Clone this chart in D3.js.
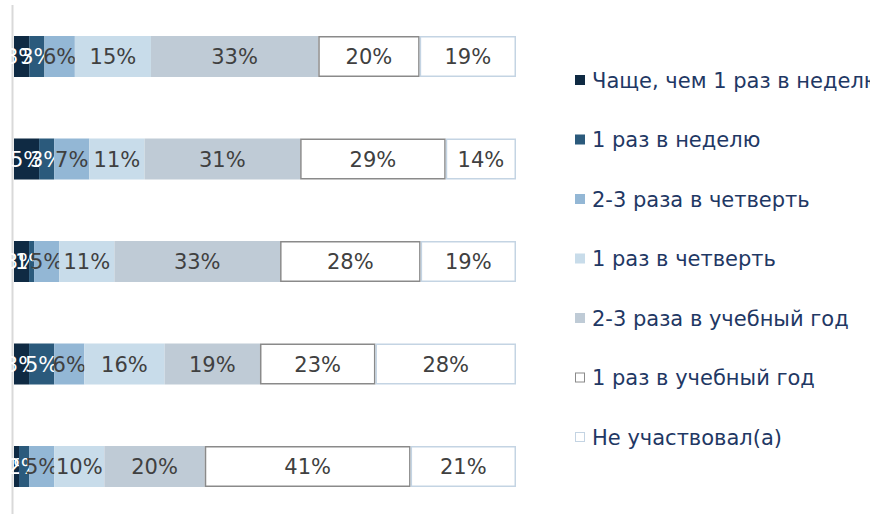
<!DOCTYPE html>
<html>
<head>
<meta charset="utf-8">
<script src="https://cdn.jsdelivr.net/npm/d3@7"></script>
<style>
  body { margin: 0; background: #fff; }
  svg { display: block; }
</style>
</head>
<body>
<div id="chart"></div>
<script>
// rows of the chart, top to bottom (no labels shown in the picture)
let groups = ["g1", "g2", "g3", "g4", "g5"];

let seriesNames = [
  "Чаще, чем 1 раз в неделю",
  "1 раз в неделю",
  "2-3 раза в четверть",
  "1 раз в четверть",
  "2-3 раза в учебный год",
  "1 раз в учебный год",
  "Не участвовал(а)"
];

// percent per row, one array per answer
let often   = [3, 5, 3, 3, 1];
let weekly  = [3, 3, 1, 5, 2];
let q23     = [6, 7, 5, 6, 5];
let q1      = [15, 11, 11, 16, 10];
let y23     = [33, 31, 33, 19, 20];
let y1      = [20, 29, 28, 23, 41];
let never   = [19, 14, 19, 28, 21];

let fills   = ["#0f2a43", "#2b5a7c", "#93b7d5", "#c8dcea", "#bfcbd6", "#ffffff", "#ffffff"];
let strokes = [null, null, null, null, null, "#8a8a8a", "#c4d4e3"];
let labelColors = ["#ffffff", "#ffffff", "#404040", "#404040", "#404040", "#404040", "#404040"];

let width = 870,
  height = 514;

let svg = d3.select("#chart")
  .append("svg")
  .attr("width", width)
  .attr("height", height);

let keys = d3.range(seriesNames.length);
let cols = [often, weekly, q23, q1, y23, y1, never];

let table = groups.map((g, i) => {
  let row = { group: g };
  keys.forEach(k => row[k] = cols[k][i]);
  return row;
});

let stack = d3.stack().keys(keys).offset(d3.stackOffsetExpand);
let layers = stack(table);

let x = d3.scaleLinear().domain([0, 1]).range([14, 516]);
let y = d3.scaleBand()
  .domain(groups)
  .range([5.25, 517.75])
  .paddingInner(0.6)
  .paddingOuter(0.3);

// left axis line
svg.append("line")
  .attr("x1", 12.5).attr("x2", 12.5)
  .attr("y1", 5).attr("y2", height)
  .attr("stroke", "#d9d9d9")
  .attr("stroke-width", 2);

let layer = svg.selectAll("g.layer")
  .data(layers)
  .join("g")
  .attr("class", "layer");

// white boxes get a border, so pull them in by half a stroke
let inset = k => strokes[k] ? 0.75 : 0;

layer.selectAll("rect")
  .data(d => d.map(v => ({ v: v, key: d.key })))
  .join("rect")
  .attr("x", d => x(d.v[0]) + inset(d.key))
  .attr("y", (d, i) => y(groups[i]) + inset(d.key))
  .attr("width", d => x(d.v[1]) - x(d.v[0]) - 2 * inset(d.key))
  .attr("height", d => y.bandwidth() - 2 * inset(d.key))
  .attr("fill", d => fills[d.key])
  .attr("stroke", d => strokes[d.key] || "none")
  .attr("stroke-width", 1.5);

layer.selectAll("text")
  .data(d => d.map(v => ({ v: v, key: d.key })))
  .join("text")
  .attr("x", d => (x(d.v[0]) + x(d.v[1])) / 2)
  .attr("y", (d, i) => y(groups[i]) + y.bandwidth() / 2)
  .attr("dy", "0.36em")
  .attr("text-anchor", "middle")
  .attr("fill", d => labelColors[d.key])
  .style("font-family", "'DejaVu Sans', Verdana, sans-serif")
  .style("font-size", "21px")
  .text(d => cols[d.key][groups.indexOf(d.v.data.group)] + "%");

// legend
let legend = svg.append("g");
let legendY = d3.scalePoint().domain(keys).range([80, 437]);

legend.selectAll("rect")
  .data(keys)
  .join("rect")
  .attr("x", d => strokes[d] ? 575.5 : 575)
  .attr("y", d => legendY(d) - 5 + (strokes[d] ? 0.5 : 0))
  .attr("width", d => strokes[d] ? 9 : 10)
  .attr("height", d => strokes[d] ? 9 : 10)
  .attr("fill", d => fills[d])
  .attr("stroke", d => strokes[d] || "none");

legend.selectAll("text")
  .data(keys)
  .join("text")
  .attr("x", 592)
  .attr("y", d => legendY(d))
  .attr("dy", "0.36em")
  .attr("fill", "#1f3864")
  .style("font-family", "'DejaVu Sans', Tahoma, sans-serif")
  .style("font-size", "21px")
  .text(d => seriesNames[d]);
</script>
</body>
</html>
